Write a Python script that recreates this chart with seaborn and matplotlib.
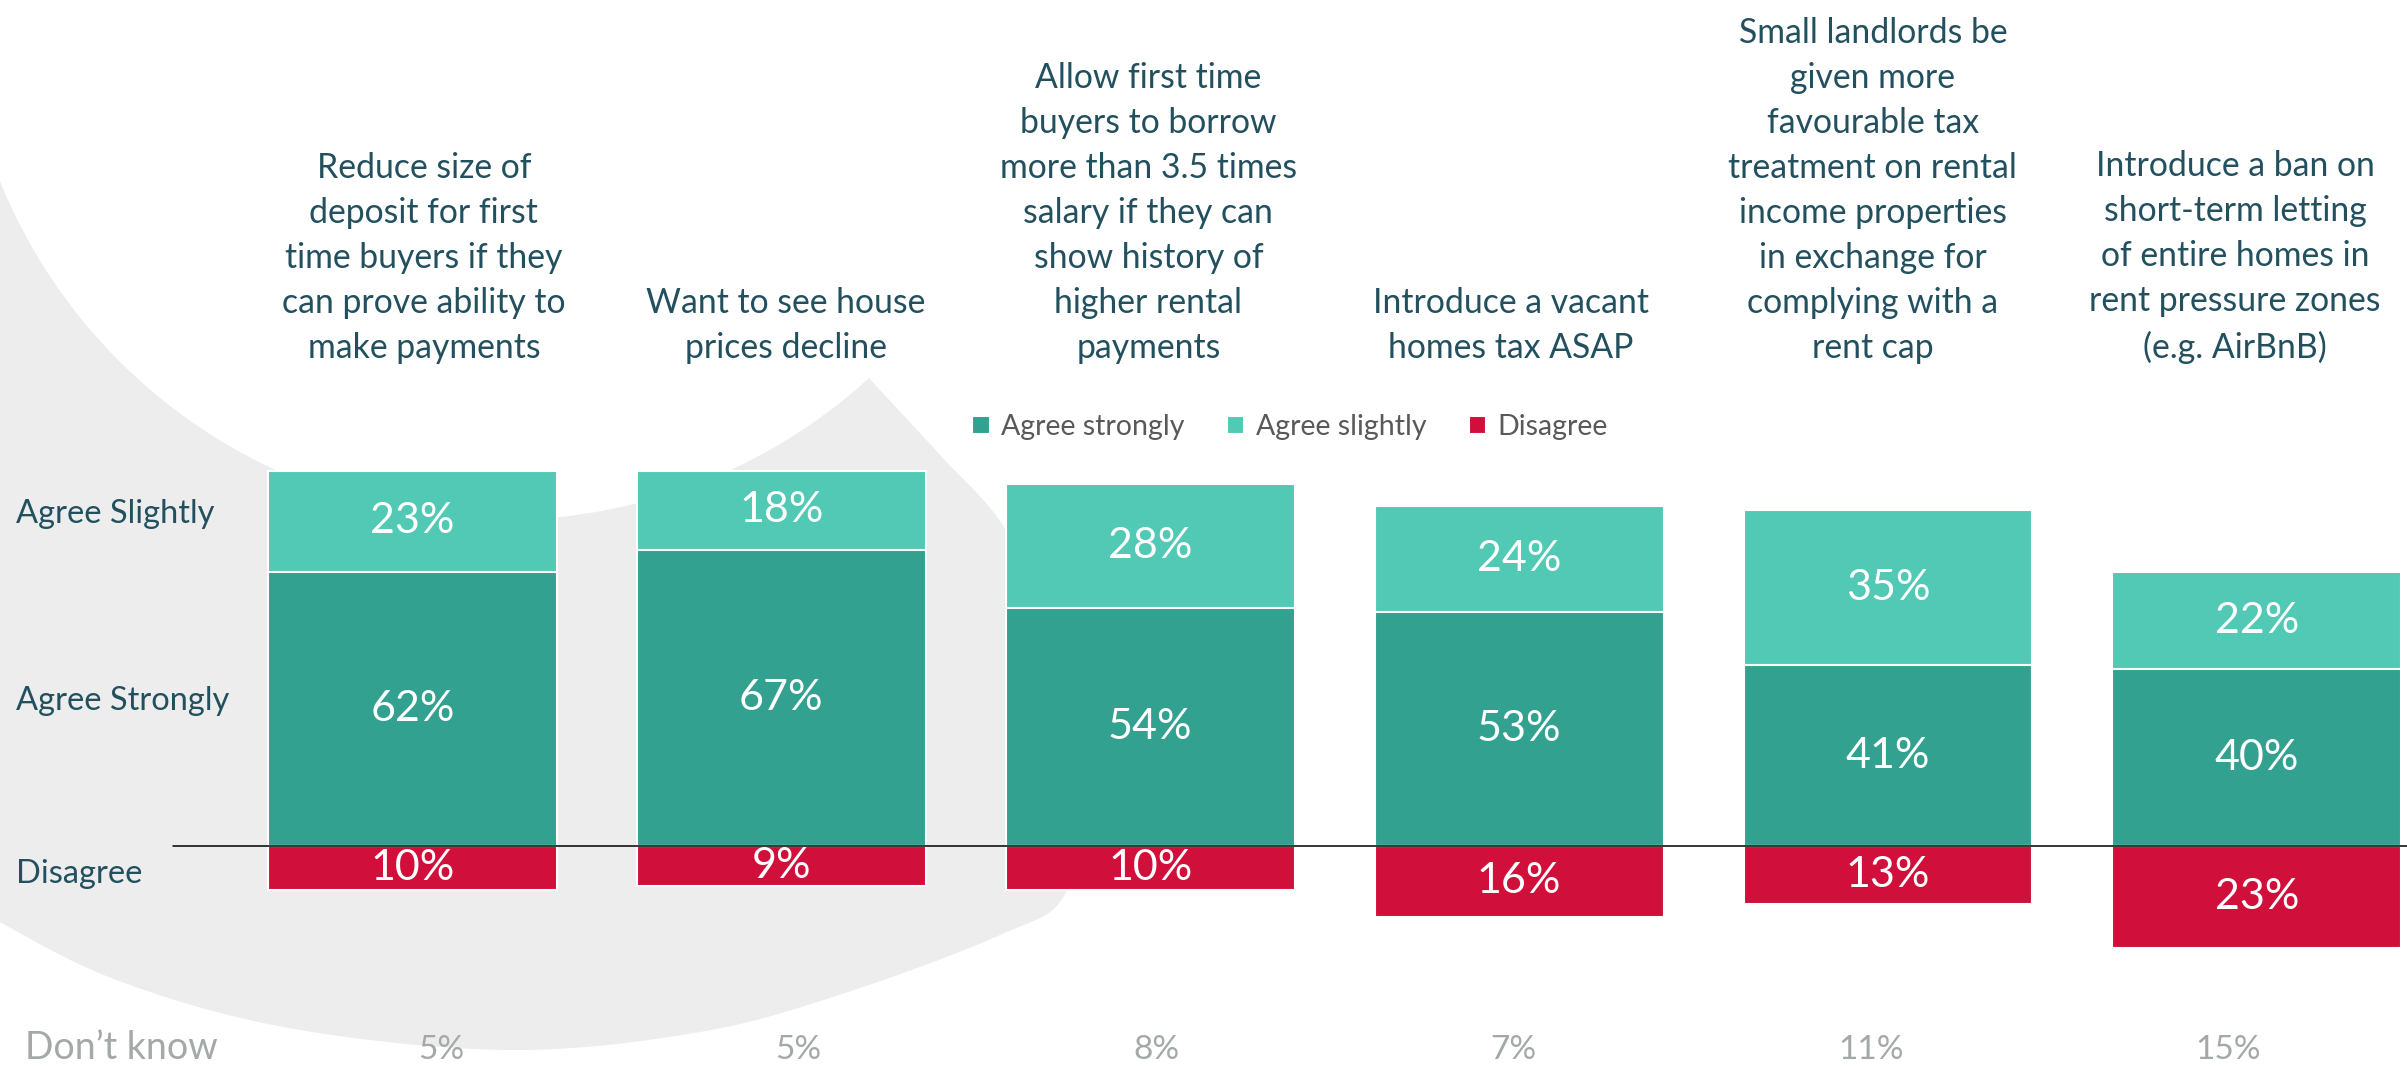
import numpy as np
import pandas as pd
import matplotlib.pyplot as plt
import seaborn as sns
from matplotlib.patches import Circle

# ---- data ----
statements = [
    "Reduce size of\ndeposit for first\ntime buyers if they\ncan prove ability to\nmake payments",
    "Want to see house\nprices decline",
    "Allow first time\nbuyers to borrow\nmore than 3.5 times\nsalary if they can\nshow history of\nhigher rental\npayments",
    "Introduce a vacant\nhomes tax ASAP",
    "Small landlords be\ngiven more\nfavourable tax\ntreatment on rental\nincome properties\nin exchange for\ncomplying with a\nrent cap",
    "Introduce a ban on\nshort-term letting\nof entire homes in\nrent pressure zones\n(e.g. AirBnB)",
]
agree_strongly = [62, 67, 54, 53, 41, 40]
agree_slightly = [23, 18, 28, 24, 35, 22]
disagree = [10, 9, 10, 16, 13, 23]
dont_know = [5, 5, 8, 7, 11, 15]
row_labels = ["Agree Slightly", "Agree Strongly", "Disagree"]

df = pd.DataFrame({
    "statement": statements,
    "strongly": agree_strongly,
    "slightly": agree_slightly,
    "disagree": disagree,
})
df["agree_total"] = df["strongly"] + df["slightly"]
df["disagree_neg"] = -df["disagree"]

C_STRONG = "#33a190"
C_SLIGHT = "#52c9b5"
C_DIS = "#d0103a"
C_HEAD = "#22505f"
C_GREY = "#a3a8a8"

sns.set_style("white")
plt.rcParams["font.family"] = ["Lato", "DejaVu Sans"]

W, H = 2407, 1069
fig = plt.figure(figsize=(W / 100, H / 100), dpi=100)

# ---- decorative grey crescent behind the chart ----
def closed_spline(pts, n=40):
    pts = np.asarray(pts, float)
    m = len(pts)
    t = np.linspace(0, 1, n, endpoint=False)[:, None]
    out = []
    for i in range(m):
        p0, p1, p2, p3 = pts[i - 1], pts[i], pts[(i + 1) % m], pts[(i + 2) % m]
        out.append(0.5 * (2 * p1 + (-p0 + p2) * t + (2 * p0 - 5 * p1 + 4 * p2 - p3) * t ** 2
                          + (-p0 + 3 * p1 - 3 * p2 + p3) * t ** 3))
    return np.vstack(out)

outer = [(869, 378), (940, 455), (1007, 532), (1055, 650), (1074, 780), (1066, 892),
         (1000, 935), (842, 994), (700, 1032), (513, 1050), (300, 1030), (130, 985),
         (0, 922), (-200, 800), (-380, 550), (-420, 250), (-300, -50), (0, -250),
         (450, -200), (720, 200), (800, 300)]
ax_bg = fig.add_axes([0, 0, 1, 1], zorder=0)
ax_bg.set_xlim(0, W)
ax_bg.set_ylim(H, 0)
ax_bg.axis("off")
xy = closed_spline(outer)
ax_bg.fill(xy[:, 0], xy[:, 1], color="#ededed", lw=0)
ax_bg.add_patch(Circle((503, -23), 543, color="white", lw=0))

# ---- main chart ----
ax = fig.add_axes([0, 0, 1, 1], zorder=1)
ax.patch.set_visible(False)

common = dict(data=df, x="statement", width=0.783, saturation=1, errorbar=None,
              edgecolor="white", linewidth=1.5, ax=ax)
sns.barplot(y="agree_total", color=C_SLIGHT, label="Agree slightly", **common)
sns.barplot(y="strongly", color=C_STRONG, label="Agree strongly", **common)
sns.barplot(y="disagree_neg", color=C_DIS, label="Disagree", **common)

ax.set_xlim(-1.118, 5.407)
ax.set_ylim(-50.45, 191.5)
ax.axis("off")

ax.plot([-0.65, 5.5], [0, 0], color="black", lw=1.1, zorder=5)

# values inside the bars
lab = dict(ha="center", va="center", color="white", fontsize=31, zorder=6)
for i in range(len(statements)):
    ax.text(i, agree_strongly[i] / 2, f"{agree_strongly[i]}%", **lab)
    ax.text(i, agree_strongly[i] + agree_slightly[i] / 2, f"{agree_slightly[i]}%", **lab)
    ax.text(i, -disagree[i] / 2, f"{disagree[i]}%", **lab)

# statements above, don't know below
head_x = np.arange(len(statements)) * 0.982 + 0.031
dk_x = np.arange(len(statements)) * 0.969 + 0.078
for i, s in enumerate(statements):
    ax.text(head_x[i], 109.2, s, ha="center", va="bottom", color=C_HEAD,
            fontsize=24.3, linespacing=1.5)
    ax.text(dk_x[i], -48.2, f"{dont_know[i]}%", ha="center", va="baseline",
            color=C_GREY, fontsize=24)

# row labels on the left
for lbl, yv in zip(row_labels, [75.2, 32.9, -6.4]):
    ax.text(-1.075, yv, lbl, ha="left", va="center", color=C_HEAD, fontsize=23.5)
ax.text(-1.05, -48.2, "Don\u2019t know", ha="left", va="baseline", color=C_GREY,
        fontsize=27)

handles = [ax.containers[1], ax.containers[0], ax.containers[2]]
ax.legend(handles, ["Agree strongly", "Agree slightly", "Disagree"], ncol=3,
          loc="center", bbox_to_anchor=(0.536, 0.6006), frameon=False,
          fontsize=20.5, labelcolor="#595959", handlelength=0.6, handleheight=0.6,
          handletextpad=0.4, columnspacing=1.5)

fig.savefig("out.png", dpi=100)
